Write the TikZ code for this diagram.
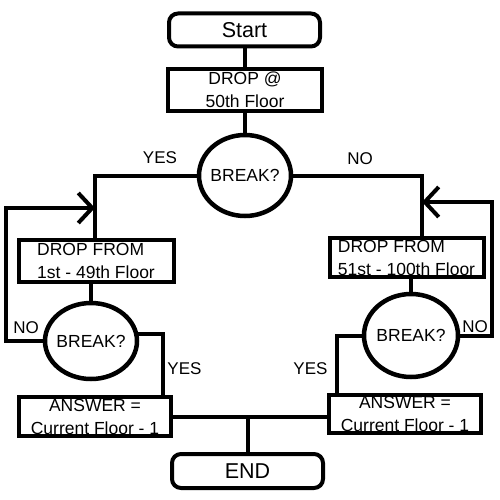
\documentclass[tikz,border=0pt]{standalone}
\usepackage{fontspec}
\setmainfont{Liberation Sans}
\usetikzlibrary{arrows.meta,shapes.geometric}
\begin{document}
\begin{tikzpicture}[x=1pt,y=-1pt,
  every node/.style={inner sep=0pt, outer sep=0pt},
  conn/.style={line width=4pt},
  term/.style={draw, line width=4pt, rounded corners=9pt, font=\fontsize{21.5}{26}\selectfont},
  proc/.style={draw, line width=4pt, font=\fontsize{17.5}{23}\selectfont},
  dec/.style={draw, ellipse, line width=4.5pt, label={[font=\fontsize{17.5}{21}\selectfont]center:BREAK?}},
  lab/.style={font=\fontsize{17}{20}\selectfont},
  arr/.style={conn, -{Straight Barb[length=14pt,width=30pt]}}
]
\useasboundingbox (0,0) rectangle (500,500);
% terminals
\node[term, minimum width=151pt, minimum height=33pt] (start) at (244.5,30) {Start};
\node[term, minimum width=151pt, minimum height=34pt] (endn) at (247.5,471) {END};
% process boxes
\node[proc, minimum width=154pt, minimum height=42pt, align=center] (drop) at (245,90) {DROP @\\50th Floor};
\node[proc, minimum width=155pt, minimum height=42pt, align=left] (dl) at (96,261) {DROP FROM\\1st - 49th Floor};
\node[proc, minimum width=154pt, minimum height=39pt, align=left] (dr) at (406.5,257.5) {DROP FROM\\51st - 100th Floor};
\node[proc, minimum width=152pt, minimum height=39pt, align=center] (la) at (95,416.5) {ANSWER =\\Current Floor - 1};
\node[proc, minimum width=152pt, minimum height=38pt, align=center] (ra) at (405,414) {ANSWER =\\Current Floor - 1};
% decisions
\node[dec, minimum width=92pt, minimum height=81pt] (b1) at (245,175.5) {};
\node[dec, minimum width=92pt, minimum height=76pt] (lb) at (91,341) {};
\node[dec, minimum width=94pt, minimum height=83pt] (rb) at (411,335.5) {};
% helper coordinates
\coordinate (tl) at (95,208);
\coordinate (cl) at (6,208);
\coordinate (tr) at (422,202);
\coordinate (cr) at (492,202);
\coordinate (yl) at (163,0);
\coordinate (yr) at (337,0);
% connectors
\draw[conn] (start.south) -- (start.south |- drop.north);
\draw[conn] (drop.south) -- (b1.north);
\draw[conn] (b1.west) -| (dl.north -| tl);
\draw[conn] (b1.east) -| (dr.north -| tr);
\draw[conn] (dl.south -| lb.north) -- (lb.north);
\draw[conn] (dr.south -| rb.north) -- (rb.north);
\draw[conn] (lb.9) -| (la.north -| yl);
\draw[conn] (rb.west) -| (ra.north -| yr);
\draw[arr] (lb.west) -| (cl) -- (tl);
\draw[arr] (rb.east) -| (cr) -- (tr);
\draw[conn] (la.east) -- (la.east -| ra.west);
\draw[conn] (la.east -| endn.north) -- (endn.north);
% labels
\node[lab] (yes1) at (160,157.5) {YES};
\node[lab] (no1) at (360,159) {NO};
\node[lab] (no2) at (26,327.5) {NO};
\node[lab] (yes2) at (184.5,369) {YES};
\node[lab] (no3) at (475,326.5) {NO};
\node[lab] (yes3) at (310.5,369) {YES};
\end{tikzpicture}
\end{document}
